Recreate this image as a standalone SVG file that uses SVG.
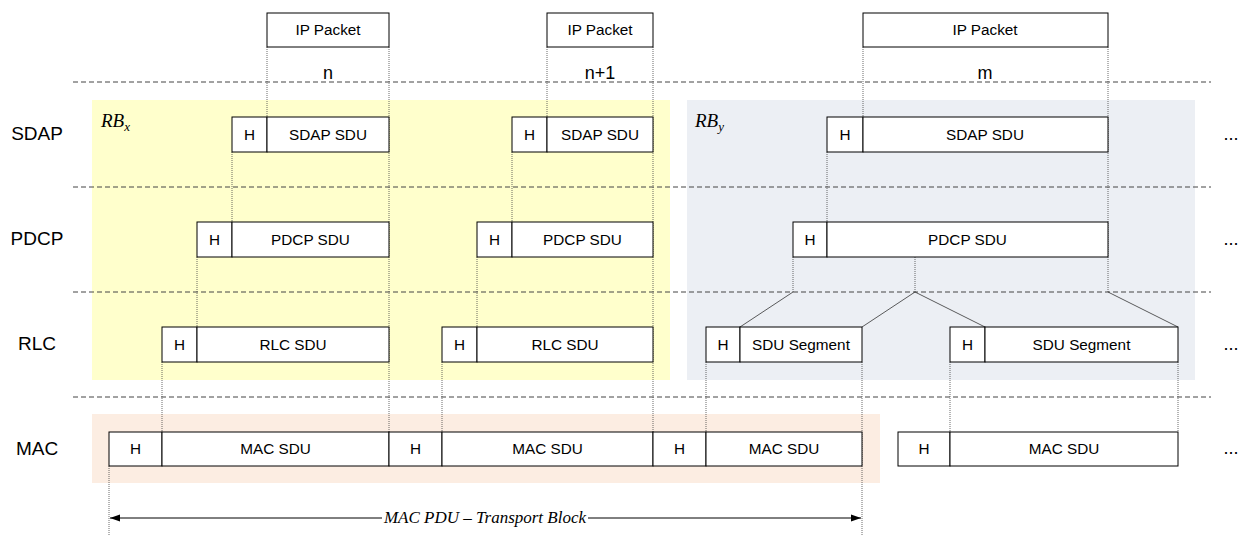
<svg xmlns="http://www.w3.org/2000/svg" width="1242" height="536" viewBox="0 0 1242 536">
<defs>
<style>
.b{fill:#fff;stroke:#000;stroke-width:1}
.t{font-family:"Liberation Sans",Arial,sans-serif;font-size:15.3px;text-anchor:middle;fill:#000}
.lab{font-family:"Liberation Sans",Arial,sans-serif;font-size:19px;text-anchor:middle;fill:#000}
.num{font-family:"Liberation Sans",Arial,sans-serif;font-size:18px;text-anchor:middle;fill:#000}
.dash{stroke:#444;stroke-width:1;stroke-dasharray:5,3;fill:none}
.dot{stroke:#444;stroke-width:0.8;stroke-dasharray:1,1;fill:none}
.diag{stroke:#333;stroke-width:0.8;fill:none}
.rb{font-family:"Liberation Serif","Times New Roman",serif;font-style:italic;font-size:19px;fill:#000}
.cap{font-family:"Liberation Serif","Times New Roman",serif;font-style:italic;font-size:17px;fill:#000;text-anchor:middle}
</style>
<marker id="ah" viewBox="0 0 10 10" refX="10" refY="5" markerWidth="10" markerHeight="10" markerUnits="userSpaceOnUse" orient="auto-start-reverse">
<path d="M0,1.5 L10,5 L0,8.5 Z" fill="#000"/>
</marker>
</defs>
<rect x="0" y="0" width="1242" height="536" fill="#fff"/>
<g id="backgrounds">
<rect x="92" y="100" width="578" height="280" fill="#FFFFCC"/>
<rect x="687" y="100" width="508" height="280" fill="#ECEFF4"/>
<rect x="92" y="414" width="788" height="69" fill="#FCEDE2"/>
</g>
<g id="layer-lines">
<line class="dash" x1="73" y1="82" x2="1211" y2="82"/>
<line class="dash" x1="73" y1="187" x2="1211" y2="187"/>
<line class="dash" x1="73" y1="292" x2="1211" y2="292"/>
<line class="dash" x1="73" y1="397" x2="1211" y2="397"/>
</g>
<g id="labels">
<text class="lab" x="37" y="140">SDAP</text>
<text class="lab" x="37" y="245">PDCP</text>
<text class="lab" x="37" y="350">RLC</text>
<text class="lab" x="37" y="455">MAC</text>
<text class="num" x="328" y="79">n</text>
<text class="num" x="600" y="79">n+1</text>
<text class="num" x="985" y="79">m</text>
<text class="rb" x="101" y="127">RB<tspan font-size="13" dy="4">x</tspan></text>
<text class="rb" x="695" y="127">RB<tspan font-size="13" dy="4">y</tspan></text>
<text class="num" x="1231" y="140">...</text>
<text class="num" x="1231" y="245">...</text>
<text class="num" x="1231" y="350">...</text>
<text class="num" x="1231" y="454">...</text>
</g>
<g id="connectors">
<line class="dot" x1="267" y1="47" x2="267" y2="117"/>
<line class="dot" x1="389" y1="47" x2="389" y2="432"/>
<line class="dot" x1="232" y1="152" x2="232" y2="222"/>
<line class="dot" x1="197" y1="257" x2="197" y2="327"/>
<line class="dot" x1="162" y1="362" x2="162" y2="432"/>
<line class="dot" x1="547" y1="47" x2="547" y2="117"/>
<line class="dot" x1="653" y1="47" x2="653" y2="432"/>
<line class="dot" x1="512" y1="152" x2="512" y2="222"/>
<line class="dot" x1="477" y1="257" x2="477" y2="327"/>
<line class="dot" x1="442" y1="362" x2="442" y2="432"/>
<line class="dot" x1="863" y1="47" x2="863" y2="117"/>
<line class="dot" x1="1108" y1="47" x2="1108" y2="292"/>
<line class="dot" x1="827" y1="152" x2="827" y2="222"/>
<line class="dot" x1="793" y1="257" x2="793" y2="292"/>
<line class="dot" x1="915" y1="257" x2="915" y2="292"/>
<line class="diag" x1="793" y1="292" x2="740" y2="327"/>
<line class="diag" x1="915" y1="292" x2="862" y2="327"/>
<line class="diag" x1="915" y1="292" x2="985" y2="327"/>
<line class="diag" x1="1108" y1="292" x2="1178" y2="327"/>
<line class="dot" x1="706" y1="362" x2="706" y2="432"/>
<line class="dot" x1="862" y1="362" x2="862" y2="536"/>
<line class="dot" x1="950" y1="362" x2="950" y2="432"/>
<line class="dot" x1="1178" y1="362" x2="1178" y2="432"/>
<line class="dot" x1="109" y1="466" x2="109" y2="536"/>
<line x1="382" y1="518" x2="110" y2="518" stroke="#000" stroke-width="1" marker-end="url(#ah)"/>
<line x1="588" y1="518" x2="861" y2="518" stroke="#000" stroke-width="1" marker-end="url(#ah)"/>
<text class="cap" x="485" y="523">MAC PDU – Transport Block</text>
</g>
<g id="ip-packets">
<g id="ip1"><rect class="b" x="267" y="13" width="122" height="34"/><text class="t" x="328" y="35">IP Packet</text></g>
<g id="ip2"><rect class="b" x="547" y="13" width="106" height="34"/><text class="t" x="600" y="35">IP Packet</text></g>
<g id="ip3"><rect class="b" x="863" y="13" width="245" height="34"/><text class="t" x="985" y="35">IP Packet</text></g>
</g>
<g id="sdap">
<g id="sdap1"><rect class="b" x="232" y="117" width="35" height="35"/><text class="t" x="249.5" y="140">H</text><rect class="b" x="267" y="117" width="122" height="35"/><text class="t" x="328" y="140">SDAP SDU</text></g>
<g id="sdap2"><rect class="b" x="512" y="117" width="35" height="35"/><text class="t" x="529.5" y="140">H</text><rect class="b" x="547" y="117" width="106" height="35"/><text class="t" x="600" y="140">SDAP SDU</text></g>
<g id="sdap3"><rect class="b" x="827" y="117" width="36" height="35"/><text class="t" x="845" y="140">H</text><rect class="b" x="863" y="117" width="245" height="35"/><text class="t" x="985" y="140">SDAP SDU</text></g>
</g>
<g id="pdcp">
<g id="pdcp1"><rect class="b" x="197" y="222" width="35" height="35"/><text class="t" x="214.5" y="245">H</text><rect class="b" x="232" y="222" width="157" height="35"/><text class="t" x="310.5" y="245">PDCP SDU</text></g>
<g id="pdcp2"><rect class="b" x="477" y="222" width="35" height="35"/><text class="t" x="494.5" y="245">H</text><rect class="b" x="512" y="222" width="141" height="35"/><text class="t" x="582.5" y="245">PDCP SDU</text></g>
<g id="pdcp3"><rect class="b" x="793" y="222" width="34" height="35"/><text class="t" x="810" y="245">H</text><rect class="b" x="827" y="222" width="281" height="35"/><text class="t" x="967.5" y="245">PDCP SDU</text></g>
</g>
<g id="rlc">
<g id="rlc1"><rect class="b" x="162" y="327" width="35" height="35"/><text class="t" x="179.5" y="350">H</text><rect class="b" x="197" y="327" width="192" height="35"/><text class="t" x="293" y="350">RLC SDU</text></g>
<g id="rlc2"><rect class="b" x="442" y="327" width="35" height="35"/><text class="t" x="459.5" y="350">H</text><rect class="b" x="477" y="327" width="176" height="35"/><text class="t" x="565" y="350">RLC SDU</text></g>
<g id="rlc3"><rect class="b" x="706" y="327" width="34" height="35"/><text class="t" x="723" y="350">H</text><rect class="b" x="740" y="327" width="122" height="35"/><text class="t" x="801" y="350">SDU Segment</text></g>
<g id="rlc4"><rect class="b" x="950" y="327" width="35" height="35"/><text class="t" x="967.5" y="350">H</text><rect class="b" x="985" y="327" width="193" height="35"/><text class="t" x="1081.5" y="350">SDU Segment</text></g>
</g>
<g id="mac">
<g id="mac1"><rect class="b" x="109" y="432" width="53" height="34"/><text class="t" x="135.5" y="454">H</text><rect class="b" x="162" y="432" width="227" height="34"/><text class="t" x="275.5" y="454">MAC SDU</text></g>
<g id="mac2"><rect class="b" x="389" y="432" width="53" height="34"/><text class="t" x="415.5" y="454">H</text><rect class="b" x="442" y="432" width="211" height="34"/><text class="t" x="547.5" y="454">MAC SDU</text></g>
<g id="mac3"><rect class="b" x="653" y="432" width="53" height="34"/><text class="t" x="679.5" y="454">H</text><rect class="b" x="706" y="432" width="156" height="34"/><text class="t" x="784" y="454">MAC SDU</text></g>
<g id="mac4"><rect class="b" x="898" y="432" width="52" height="34"/><text class="t" x="924" y="454">H</text><rect class="b" x="950" y="432" width="228" height="34"/><text class="t" x="1064" y="454">MAC SDU</text></g>
</g>
</svg>
